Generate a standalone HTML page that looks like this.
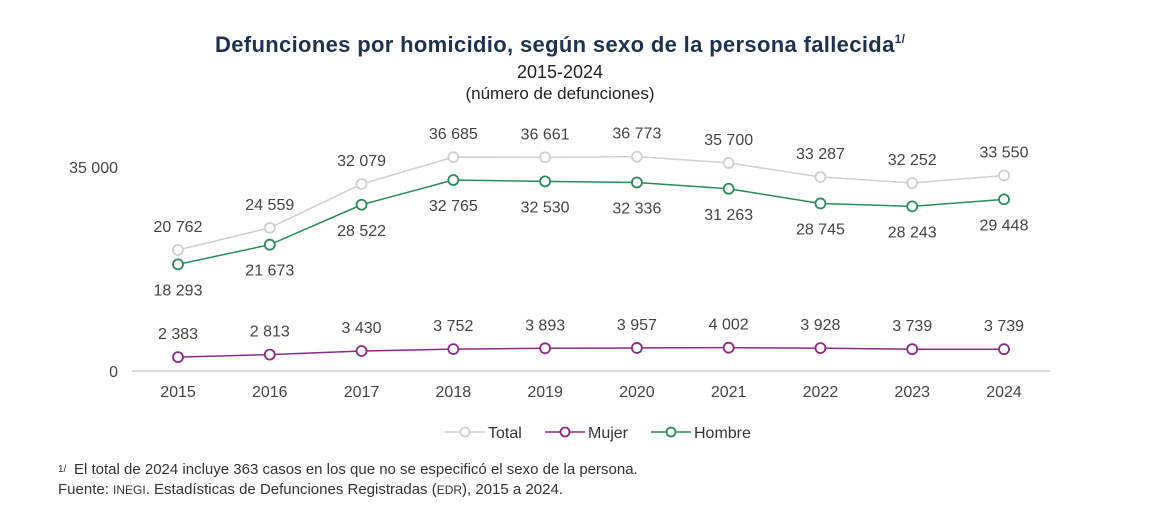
<!DOCTYPE html>
<html><head><meta charset="utf-8"><style>
body{margin:0;width:1156px;height:530px;background:#fff;font-family:"Liberation Sans",sans-serif;overflow:hidden}
svg{position:absolute;left:0;top:0}
</style></head><body>
<svg id="c" width="1156" height="530">
<text x="560" y="52" text-anchor="middle" font-size="22" font-weight="bold" fill="#1f3151" textLength="690">Defunciones por homicidio, según sexo de la persona fallecida<tspan font-size="12" dy="-9">1/</tspan></text>
<text x="560" y="78" text-anchor="middle" font-size="18" fill="#222">2015-2024</text>
<text x="560" y="99" text-anchor="middle" font-size="17" fill="#222">(número de defunciones)</text>
<text x="58" y="472" font-size="10" fill="#333">1/</text>
<text x="74" y="474" font-size="15" fill="#333">El total de 2024 incluye 363 casos en los que no se especificó el sexo de la persona.</text>
<text x="58" y="494" font-size="15" fill="#333">Fuente: <tspan font-size="12">INEGI</tspan>. Estadísticas de Defunciones Registradas (<tspan font-size="12">EDR</tspan>), 2015 a 2024.</text>
</svg>
<script>
const years=['2015','2016','2017','2018','2019','2020','2021','2022','2023','2024'];
const total=[20762,24559,32079,36685,36661,36773,35700,33287,32252,33550];
const mujer=[2383,2813,3430,3752,3893,3957,4002,3928,3739,3739];
const hombre=[18293,21673,28522,32765,32530,32336,31263,28745,28243,29448];
const yTicks=[0,35000];
const svg=document.getElementById('c');
const NS='http://www.w3.org/2000/svg';
const x=i=>178+i*(1004-178)/(years.length-1);
const y=v=>371-v*204/35000;
const fmt=v=>String(v).replace(/\B(?=(\d{3})+(?!\d))/g,' ');
function mk(t,a,txt){const e=document.createElementNS(NS,t);for(const k in a)e.setAttribute(k,a[k]);if(txt!=null)e.textContent=txt;svg.appendChild(e);return e;}
const ax=mk('line',{x1:132,x2:1050,y1:371,y2:371,stroke:'#d9d9d9','stroke-width':2});


yTicks.forEach(v=>{const t=mk('text',{x:118,y:y(v)+6,'text-anchor':'end','font-size':16,fill:'#444'},fmt(v));

});
years.forEach((yr,i)=>{const t=mk('text',{x:x(i),y:397,'text-anchor':'middle','font-size':16,fill:'#444'},yr);

});
function series(vals,color,name,dy){
const p=mk('polyline',{points:vals.map((v,i)=>x(i)+','+y(v)).join(' '),fill:'none',stroke:color,'stroke-width':1.5});


vals.forEach((v,i)=>{
const c=mk('circle',{cx:x(i),cy:y(v),r:5,fill:'#fff',stroke:color,'stroke-width':1.8});


const t=mk('text',{x:x(i),y:y(v)+dy,'text-anchor':'middle','font-size':16,fill:'#444'},fmt(v));

});}
series(total,'#cfcfcf','total',-18);
series(hombre,'#2a8a5c','hombre',31);
series(mujer,'#8a2a86','mujer',-18);
const leg=[['Total','#cfcfcf',445],['Mujer','#8a2a86',545],['Hombre','#2a8a5c',651]];
leg.forEach(([n,c,lx])=>{
const l=mk('line',{x1:lx,x2:lx+40,y1:432,y2:432,stroke:c,'stroke-width':1.5});


const ci=mk('circle',{cx:lx+20,cy:432,r:4.5,fill:'#fff',stroke:c,'stroke-width':1.8});


const t=mk('text',{x:lx+43,y:438,'font-size':16,fill:'#333'},n);

});
</script>
</body></html>
